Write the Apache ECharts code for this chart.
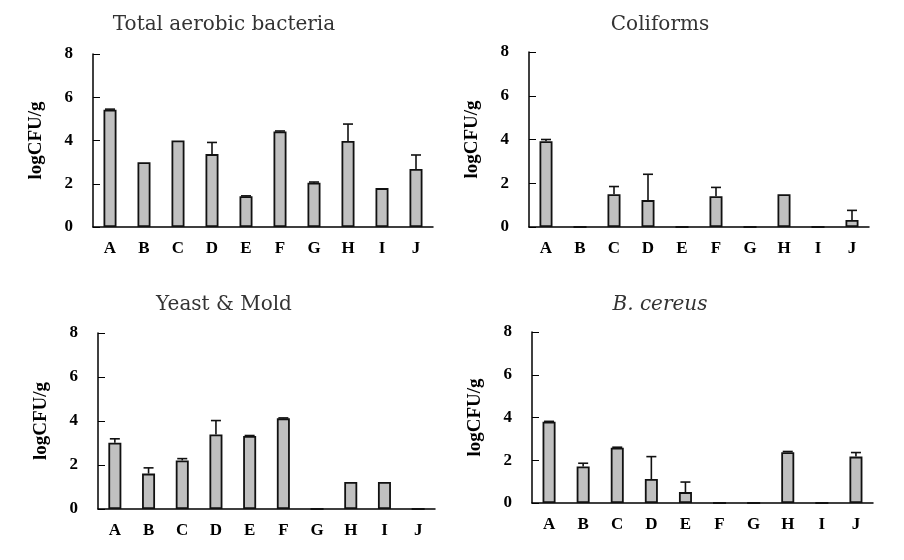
<!DOCTYPE html>
<html>
<head>
<meta charset="utf-8">
<script src="https://cdn.jsdelivr.net/npm/echarts@6/dist/echarts.min.js"></script>
<style>
  html, body { margin: 0; padding: 0; background: #fff; }
  #main { width: 904px; height: 560px; }
</style>
</head>
<body>
<div id="main"></div>
<script>
// 样品
var categories = ["A", "B", "C", "D", "E", "F", "G", "H", "I", "J"];
var yTicks = [0, 2, 4, 6, 8];

// Total aerobic bacteria
var aerobicMean = [5.42, 3.0, 4.0, 3.37, 1.42, 4.42, 2.05, 3.98, 1.8, 2.68];
var aerobicSd = [0.03, 0, 0, 0.54, 0.02, 0.02, 0.03, 0.78, 0, 0.65];
// Coliforms
var coliMean = [3.92, 0, 1.5, 1.23, 0, 1.41, 0, 1.5, 0, 0.32];
var coliSd = [0.08, 0, 0.35, 1.18, 0, 0.4, 0, 0, 0, 0.44];
// Yeast & Mold
var yeastMean = [3.01, 1.61, 2.21, 3.39, 3.32, 4.12, 0, 1.23, 1.23, 0];
var yeastSd = [0.18, 0.26, 0.08, 0.63, 0.02, 0.02, 0, 0, 0, 0];
// B. cereus
var cereusMean = [3.8, 1.71, 2.59, 1.12, 0.51, 0, 0, 2.38, 0, 2.17];
var cereusSd = [0.02, 0.15, 0.02, 1.05, 0.47, 0, 0, 0.03, 0, 0.19];

var titles = ["Total aerobic bacteria", "Coliforms", "Yeast & Mold", "B. cereus"];
var means = [aerobicMean, coliMean, yeastMean, cereusMean];
var sds = [aerobicSd, coliSd, yeastSd, cereusSd];

// 各子图位置
var grids = [
  { left: 93, top: 54, width: 340, height: 173 },
  { left: 529, top: 52, width: 340, height: 175 },
  { left: 98, top: 333, width: 337, height: 176 },
  { left: 532, top: 332, width: 341, height: 171 }
];
var titlePos = [[224, 25], [660, 25], [224, 305], [660, 305]];

var serif = "Liberation Serif";
var titleFont = "'DejaVu Serif', serif";
var myChart = echarts.init(document.getElementById("main"), null, { renderer: "canvas" });

var xAxes = [], yAxes = [], series = [], graphics = [];
for (var k = 0; k < 4; k++) {
  xAxes.push({
    type: "category",
    gridIndex: k,
    data: categories,
    axisLine: { lineStyle: { color: "#000", width: 1.5 } },
    axisTick: { alignWithLabel: true, inside: true, length: 4, lineStyle: { color: "#000" } },
    axisLabel: { color: "#000", fontFamily: serif, fontWeight: "bold", fontSize: 17, margin: 13 }
  });
  yAxes.push({
    type: "value",
    gridIndex: k,
    min: yTicks[0],
    max: yTicks[yTicks.length - 1],
    interval: 2,
    name: "logCFU/g",
    nameLocation: "middle",
    nameGap: 47,
    nameTextStyle: { color: "#000", fontFamily: serif, fontWeight: "bold", fontSize: 19 },
    splitLine: { show: false },
    axisLine: { show: true, lineStyle: { color: "#000", width: 1.5 } },
    axisTick: { show: true, inside: true, length: 7, lineStyle: { color: "#000" } },
    axisLabel: { color: "#000", fontFamily: serif, fontWeight: "bold", fontSize: 17, margin: 20 }
  });
  series.push({
    type: "bar",
    xAxisIndex: k,
    yAxisIndex: k,
    data: means[k],
    barWidth: 13,
    itemStyle: { color: "#c0c0c0", borderColor: "#111", borderWidth: 1.8 },
    z: 2
  });
  // 误差线（只画上半部分）
  (function (mean, sd, idx) {
    series.push({
      type: "custom",
      xAxisIndex: idx,
      yAxisIndex: idx,
      data: mean.map(function (m, i) { return [i, m, m + sd[i]]; }),
      renderItem: function (params, api) {
        var i = api.value(0);
        if (sd[i] <= 0) return null;
        var p0 = api.coord([i, api.value(1)]);
        var p1 = api.coord([i, api.value(2)]);
        var style = { stroke: "#111", lineWidth: 1.6 };
        return {
          type: "group",
          children: [
            { type: "line", shape: { x1: p0[0], y1: p0[1], x2: p1[0], y2: p1[1] }, style: style },
            { type: "line", shape: { x1: p1[0] - 5, y1: p1[1], x2: p1[0] + 5, y2: p1[1] }, style: style }
          ]
        };
      },
      z: 3
    });
  })(means[k], sds[k], k);
  graphics.push({
    type: "text",
    x: titlePos[k][0],
    y: titlePos[k][1],
    style: {
      text: titles[k],
      fill: "#333",
      font: (k === 3 ? "italic " : "") + "20px " + titleFont,
      textAlign: "center",
      textVerticalAlign: "middle"
    }
  });
}

var option = {
  animation: false,
  backgroundColor: "#fff",
  grid: grids,
  xAxis: xAxes,
  yAxis: yAxes,
  series: series,
  graphic: graphics
};
myChart.setOption(option);
</script>
</body>
</html>
